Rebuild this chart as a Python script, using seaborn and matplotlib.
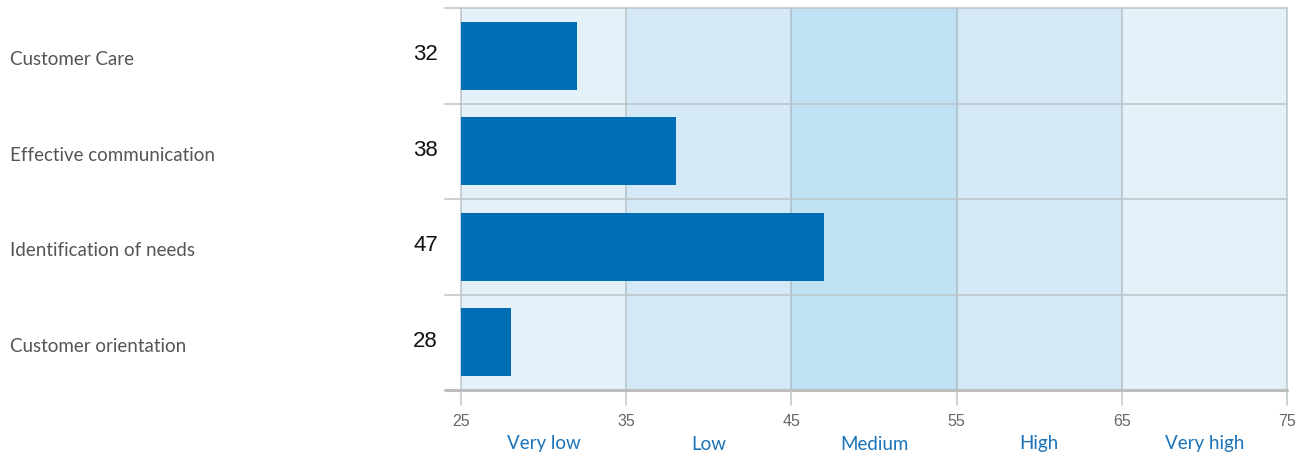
import matplotlib
matplotlib.use("Agg")
import matplotlib.pyplot as plt
import matplotlib.transforms as mtransforms
import pandas as pd
import seaborn as sns

categories = ["Customer Care", "Effective communication", "Identification of needs", "Customer orientation"]
scores = [32, 38, 47, 28]

band_edges = [25, 35, 45, 55, 65, 75]
band_names = ["Very low", "Low", "Medium", "High", "Very high"]
band_colors = ["#e4f1f8", "#d4e9f5", "#bfe1f3", "#d4e9f5", "#e4f1f8"]

df = pd.DataFrame({"category": categories, "score": scores})

sns.set_style("white")
fig = plt.figure(figsize=(13.1, 4.59), dpi=100)
ax = fig.add_axes([461 / 1310, 1 - 390 / 459, 826 / 1310, 382 / 459])

# coloured score bands
for lo, hi, c in zip(band_edges[:-1], band_edges[1:], band_colors):
    ax.axvspan(lo, hi, color=c, zorder=0, lw=0)

sns.barplot(data=df, x="score", y="category", orient="h", color="#006eb4",
            saturation=1, width=0.715, linewidth=0, ax=ax, zorder=2)

ax.set_xlim(25, 75)
ax.set_ylim(len(categories) - 0.5, -0.5)
ax.set_xlabel("")
ax.set_ylabel("")
ax.set_xticks([])
ax.set_yticks([])
for s in ax.spines.values():
    s.set_visible(False)

# grid lines
for x in band_edges:
    ax.plot([x, x], [-0.5, len(categories) - 0.5 + 0.16], color="#a2b0b8", alpha=0.6,
            lw=1.3, clip_on=False, zorder=1)
for i in range(len(categories) + 1):
    y = i - 0.5
    last = i == len(categories)
    ax.plot([-0.019, 1], [y, y], color="#bdbdbd" if last else "#bcc4c8",
            lw=2.2 if last else 1.3, alpha=1 if last else 0.85,
            transform=mtransforms.blended_transform_factory(ax.transAxes, ax.transData),
            clip_on=False, zorder=1)

# category names on the far left
lbl_tr = mtransforms.blended_transform_factory(fig.transFigure, ax.transData)
for i, name in enumerate(categories):
    ax.annotate(name, xy=(10 / 1310, i), xycoords=lbl_tr, xytext=(0, -4),
                textcoords="offset pixels", ha="left", va="center",
                fontsize=13.5, color="#555555", family="Lato")

# value labels next to the axis
for i, v in enumerate(scores):
    ax.annotate(str(v), xy=(0, i), xycoords=("axes fraction", "data"),
                xytext=(-23, 1), textcoords="offset pixels", ha="right", va="center",
                fontsize=16, color="#111111", family="Liberation Sans")

# tick numbers and band names below
tick_tr = mtransforms.blended_transform_factory(ax.transData, fig.transFigure)
for x in band_edges:
    ax.text(x, 1 - 421 / 459, str(x), transform=tick_tr, ha="center", va="center",
            fontsize=11.5, color="#666666", family="Liberation Sans")
for lo, hi, name in zip(band_edges[:-1], band_edges[1:], band_names):
    ax.text((lo + hi) / 2, 1 - 444 / 459, name, transform=tick_tr, ha="center", va="center",
            fontsize=13.5, color="#1a73b8", family="Lato")

fig.savefig("out.png", dpi=100)
